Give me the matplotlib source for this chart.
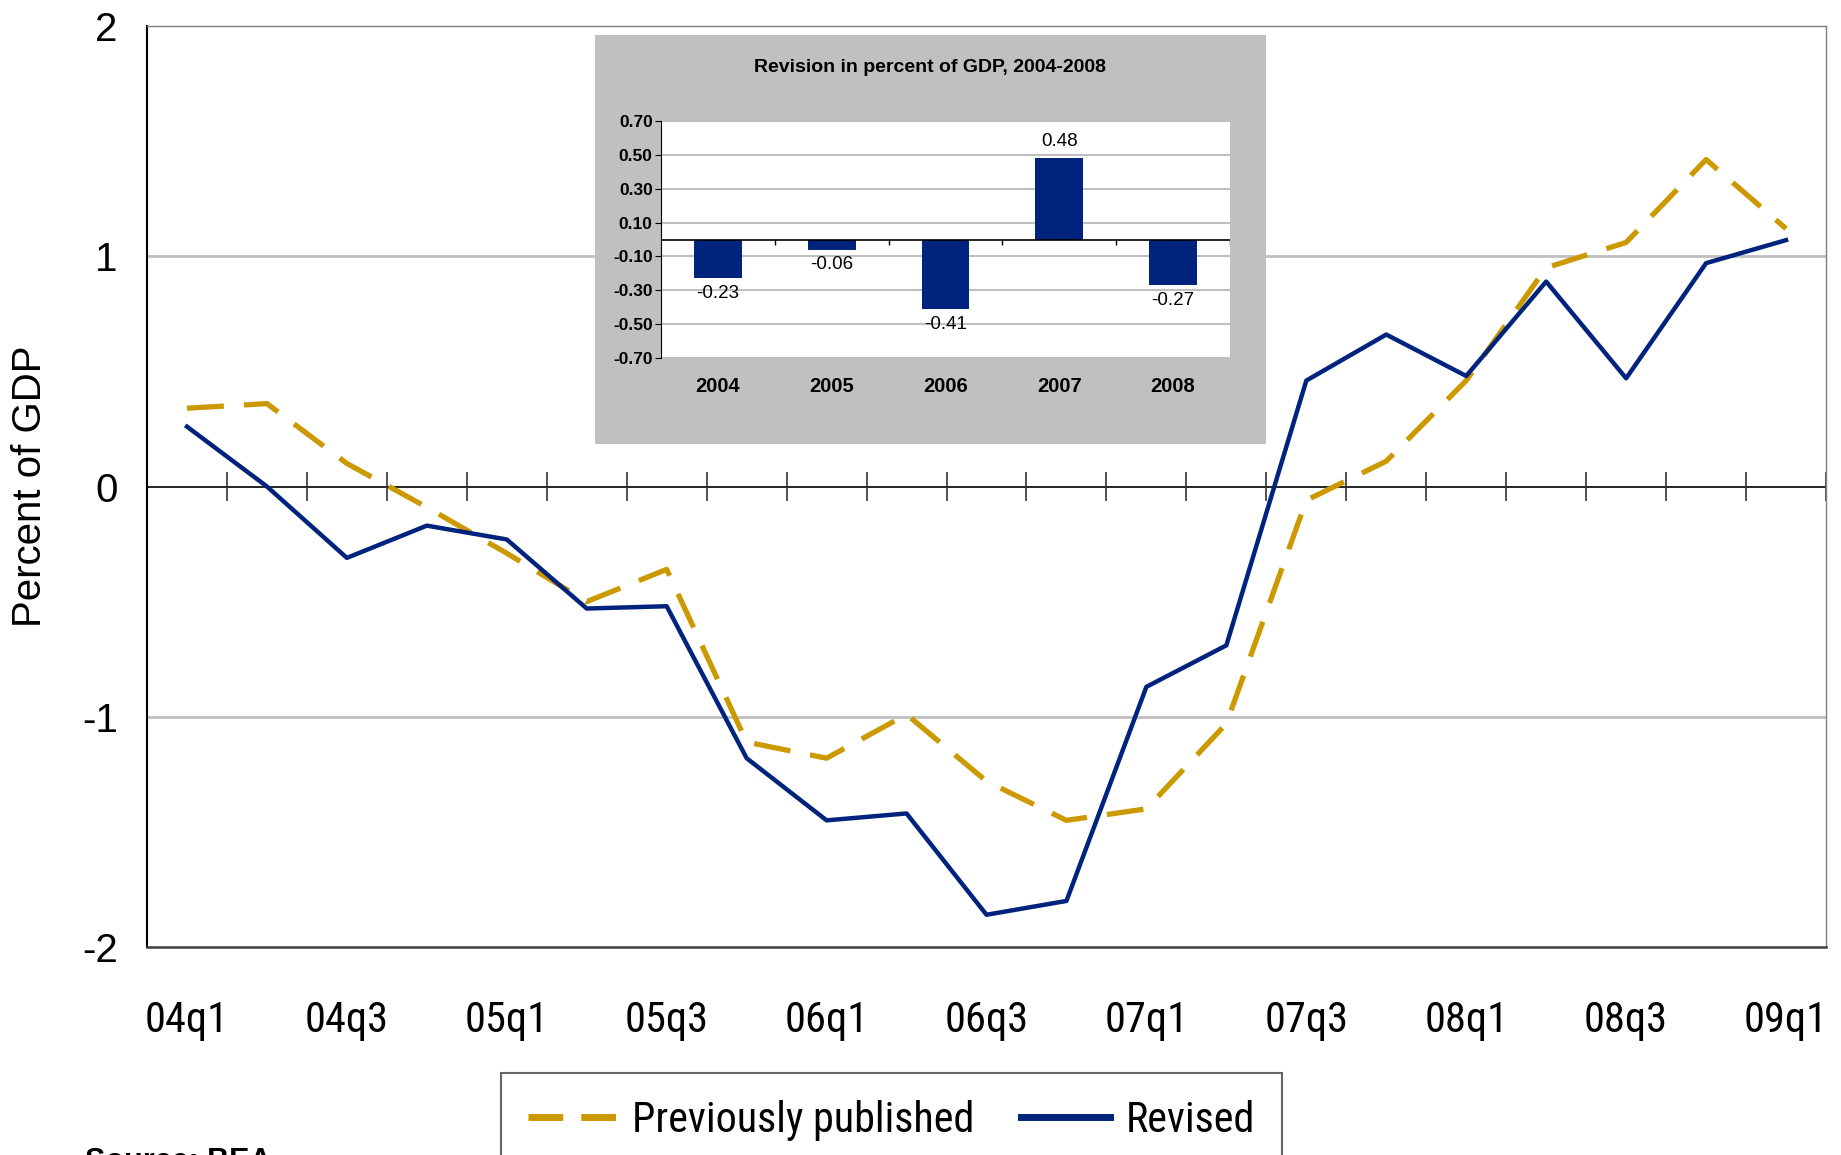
import numpy as np
import matplotlib
matplotlib.use('Agg')
import matplotlib.pyplot as plt
from matplotlib.lines import Line2D
from matplotlib import font_manager as fm
from matplotlib.font_manager import FontProperties

# main series, percent of GDP
quarters = ['04q1', '04q2', '04q3', '04q4', '05q1', '05q2', '05q3', '05q4',
            '06q1', '06q2', '06q3', '06q4', '07q1', '07q2', '07q3', '07q4',
            '08q1', '08q2', '08q3', '08q4', '09q1']
previously = [0.34, 0.36, 0.10, -0.09, -0.29, -0.50, -0.36, -1.11,
              -1.18, -0.99, -1.28, -1.45, -1.40, -1.03, -0.06, 0.11,
              0.46, 0.95, 1.06, 1.42, 1.12]
revised = [0.26, 0.00, -0.31, -0.17, -0.23, -0.53, -0.52, -1.18,
           -1.45, -1.42, -1.86, -1.80, -0.87, -0.69, 0.46, 0.66,
           0.48, 0.89, 0.47, 0.97, 1.07]

# inset bars
years = ['2004', '2005', '2006', '2007', '2008']
revision = [-0.23, -0.06, -0.41, 0.48, -0.27]
inset_ticks = [0.70, 0.50, 0.30, 0.10, -0.10, -0.30, -0.50, -0.70]

NAVY = '#00247D'
GOLD = '#CC9900'
arial = ['Liberation Sans', 'DejaVu Sans']


def pick_narrow():
    # look for an Arial Narrow like face among the installed fonts
    wanted = ['Liberation Sans Narrow', 'Arial Narrow', 'Roboto Condensed',
              'Noto Sans Condensed', 'Open Sans Condensed', 'DejaVu Sans Condensed']
    fonts = [f for f in fm.fontManager.ttflist
             if f.style == 'normal' and f.weight in (400, 'normal', 'regular', 'book')]
    for name in wanted:
        for f in fonts:
            if f.name == name:
                return f.fname
    for pref in ['Noto Sans', 'Roboto', 'Open Sans', 'DejaVu Sans', 'Liberation Sans']:
        for f in fonts:
            if f.name.startswith(pref) and str(f.stretch) in ('condensed', 'semi-condensed'):
                return f.fname
    for f in fonts:
        low = f.fname.lower()
        if ('condensed' in low or 'narrow' in low) and 'bold' not in low and 'italic' not in low:
            return f.fname
    return None


narrow_path = pick_narrow()


def narrow_fp(size):
    if narrow_path:
        return FontProperties(fname=narrow_path, size=size)
    return FontProperties(family='Liberation Sans', size=size)


W, H = 1841, 1155
fig = plt.figure(figsize=(W/100, H/100), dpi=100)
renderer = fig.canvas.get_renderer()


def fit_size(s, target_px):
    # font size that makes string s about target_px wide
    t = fig.text(0, 0, s, fontproperties=narrow_fp(20))
    w = t.get_window_extent(renderer).width
    t.remove()
    return 20 * target_px / w


def box(x0, y0, x1, y1):
    # pixel box (top-left origin) -> figure fraction rect
    return [x0/W, 1 - y1/H, (x1 - x0)/W, (y1 - y0)/H]


ax = fig.add_axes(box(147, 26, 1826, 947))
x = np.arange(len(quarters))
ax.plot(x, previously, color=GOLD, lw=3.8, dashes=(7, 3.8), label='Previously published')
ax.plot(x, revised, color=NAVY, lw=3.2, label='Revised')
ax.set_xlim(-0.5, len(quarters) - 0.5)
ax.set_ylim(-2, 2)
ax.set_yticks([-2, -1, 0, 1, 2])
ax.set_yticklabels(['-2', '-1', '0', '1', '2'], family=arial, fontsize=29)
ax.tick_params(axis='y', length=0, pad=21)
ax.set_xticks(x[::2])
xfp = narrow_fp(fit_size('04q1', 84))
ax.set_xticklabels(quarters[::2], fontproperties=xfp)
ax.tick_params(axis='x', length=0, pad=38)
for yv in [1, -1]:
    ax.axhline(yv, color='#C0C0C0', lw=2, zorder=0)
ax.axhline(0, color='black', lw=1.2, zorder=1)
bounds = np.arange(0.5, len(quarters), 1.0)
ax.vlines(bounds, -0.065, 0.065, color='#333333', lw=1.2, zorder=1)
ax.spines['left'].set_color('black')
ax.spines['left'].set_linewidth(1.5)
ax.spines['bottom'].set_color('#404040')
ax.spines['bottom'].set_linewidth(1.8)
for s in ['top', 'right']:
    ax.spines[s].set_color('#808080')
    ax.spines[s].set_linewidth(1.0)
ax.set_ylabel('Percent of GDP', family=arial, fontsize=29, va='center', ha='center')
ax.yaxis.set_label_coords((30 - 147) / (1826 - 147), 0.5)

lsize = fit_size('Previously published', 342)
lpx = lsize * 100 / 72
handles = [Line2D([], [], color=GOLD, lw=5, dashes=(5, 2.6)),
           Line2D([], [], color=NAVY, lw=5)]
leg = fig.legend(handles, ['Previously published', 'Revised'],
                 loc='upper left', bbox_to_anchor=(501/W, 1 - 1073/H),
                 ncol=2, frameon=True, fancybox=False, edgecolor='#404040',
                 prop=narrow_fp(lsize), handlelength=89/lpx,
                 handletextpad=15/lpx, columnspacing=47/lpx, borderpad=27/lpx,
                 borderaxespad=0)
leg.get_frame().set_linewidth(1.5)

fig.text(85/W, 1 - 1147/H, 'Source: BEA', family=arial, fontsize=22,
         fontweight='bold', va='top', ha='left')

# inset
bg = fig.add_axes(box(595, 35, 1266, 444))
bg.set_facecolor('#C0C0C0')
bg.set_xticks([])
bg.set_yticks([])
for s in bg.spines.values():
    s.set_visible(False)
bg.text(0.5, 0.92, 'Revision in percent of GDP, 2004-2008', transform=bg.transAxes,
        ha='center', va='center', family=arial, fontsize=14, fontweight='bold')

ins = fig.add_axes(box(661, 121, 1230, 358))
ix = np.arange(len(years))
ins.bar(ix, revision, width=0.42, color=NAVY, zorder=3)
ins.set_xlim(-0.5, len(years) - 0.5)
ins.set_ylim(-0.7, 0.7)
ins.set_yticks(inset_ticks)
ins.set_yticklabels(['%.2f' % v for v in inset_ticks], family=arial,
                    fontsize=12.5, fontweight='bold')
ins.yaxis.grid(True, color='#C0C0C0', lw=1.5, zorder=0)
ins.tick_params(axis='y', length=4, pad=2)
ins.set_xticks(ix)
ins.set_xticklabels(years, family=arial, fontsize=14.5, fontweight='bold')
ins.tick_params(axis='x', length=0, pad=14)
ins.axhline(0, color='black', lw=1.2, zorder=4)
ins.vlines(np.arange(0.5, len(years), 1.0), -0.03, 0, color='black', lw=1, zorder=4)
for s in ['top', 'right', 'bottom']:
    ins.spines[s].set_visible(False)
ins.spines['left'].set_color('black')
for i, v in enumerate(revision):
    if v >= 0:
        ins.text(i, v + 0.05, '%.2f' % v, ha='center', va='bottom',
                 family=arial, fontsize=13.5)
    else:
        ins.text(i, v - 0.04, '%.2f' % v, ha='center', va='top',
                 family=arial, fontsize=13.5)

fig.savefig('out.png', dpi=100)
